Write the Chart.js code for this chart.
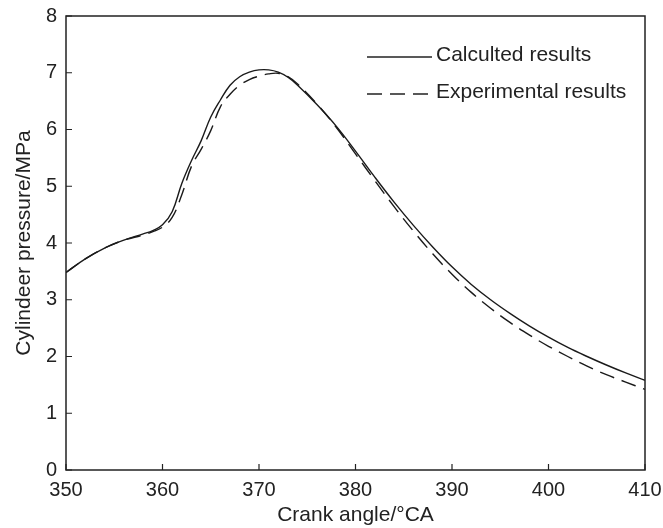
<!DOCTYPE html>
<html>
<head>
<meta charset="utf-8">
<script src="https://cdn.jsdelivr.net/npm/chart.js@4.4.1/dist/chart.umd.min.js"></script>
<style>
  html, body { margin: 0; padding: 0; background: #fff; }
  #wrap { width: 663px; height: 528px; position: relative; }
</style>
</head>
<body>
<div id="wrap"><canvas id="chart"></canvas></div>
<script>
// crank angle (deg CA)
const angles = [350, 352, 354, 356, 358, 359, 360, 361, 362, 363, 364, 365, 366, 367, 368, 369, 370, 371, 372, 373, 374, 376, 378, 380, 382, 384, 386, 388, 390, 392, 394, 396, 398, 400, 402, 404, 406, 408, 410];
// cylinder pressure (MPa)
const calculated = [3.48, 3.72, 3.91, 4.05, 4.16, 4.22, 4.32, 4.55, 5.05, 5.45, 5.80, 6.22, 6.52, 6.78, 6.93, 7.01, 7.05, 7.05, 7.01, 6.92, 6.78, 6.44, 6.06, 5.62, 5.16, 4.72, 4.31, 3.93, 3.58, 3.27, 3.00, 2.76, 2.54, 2.34, 2.16, 2.00, 1.85, 1.71, 1.58];
const experimental = [3.48, 3.72, 3.91, 4.05, 4.14, 4.20, 4.28, 4.45, 4.85, 5.35, 5.65, 5.98, 6.40, 6.62, 6.78, 6.88, 6.94, 6.98, 6.99, 6.93, 6.80, 6.45, 6.04, 5.57, 5.10, 4.64, 4.21, 3.81, 3.45, 3.13, 2.85, 2.60, 2.38, 2.18, 2.00, 1.83, 1.68, 1.55, 1.42];
const xTicks = [350, 360, 370, 380, 390, 400, 410];
const yTicks = [0, 1, 2, 3, 4, 5, 6, 7, 8];
const seriesNames = ["Calculted results", "Experimental results"];

const FONT = "'Liberation Sans', Arial, sans-serif";

function toPoints(ys) {
  return angles.map((a, i) => ({ x: a, y: ys[i] }));
}

// box around plot, inward tick marks, legend inside the axes
const frameAndLegend = {
  id: "frameAndLegend",
  afterDraw(chart) {
    const { ctx, chartArea: area, scales } = chart;
    ctx.save();
    ctx.strokeStyle = "#222";
    ctx.lineWidth = 1.5;
    ctx.strokeRect(area.left, area.top, area.right - area.left, area.bottom - area.top);

    ctx.lineWidth = 1.2;
    ctx.beginPath();
    xTicks.forEach((t) => {
      const x = scales.x.getPixelForValue(t);
      ctx.moveTo(x, area.bottom);
      ctx.lineTo(x, area.bottom - 6);
    });
    yTicks.forEach((t) => {
      const y = scales.y.getPixelForValue(t);
      ctx.moveTo(area.left, y);
      ctx.lineTo(area.left + 6, y);
    });
    ctx.stroke();

    // legend
    ctx.font = "21px " + FONT;
    ctx.fillStyle = "#222";
    ctx.textBaseline = "middle";
    const rows = [
      { y: 55, dash: [] },
      { y: 92, dash: [15, 8] },
    ];
    rows.forEach((r, i) => {
      ctx.beginPath();
      ctx.setLineDash(r.dash);
      ctx.lineWidth = 1.4;
      ctx.moveTo(367, r.y + 2);
      ctx.lineTo(432, r.y + 2);
      ctx.stroke();
      ctx.setLineDash([]);
      ctx.fillText(seriesNames[i], 436, r.y);
    });
    ctx.restore();
  },
};

new Chart(document.getElementById("chart"), {
  type: "line",
  data: {
    datasets: [
      {
        label: seriesNames[0],
        data: toPoints(calculated),
        borderColor: "#1a1a1a",
        borderWidth: 1.4,
        pointRadius: 0,
        tension: 0.4,
        fill: false,
      },
      {
        label: seriesNames[1],
        data: toPoints(experimental),
        borderColor: "#1a1a1a",
        borderWidth: 1.4,
        borderDash: [15, 8],
        pointRadius: 0,
        tension: 0.4,
        fill: false,
      },
    ],
  },
  options: {
    responsive: true,
    maintainAspectRatio: false,
    animation: false,
    layout: {
      padding: { left: 0, right: 18, top: 16, bottom: 0 },
    },
    plugins: {
      legend: { display: false },
      tooltip: { enabled: false },
    },
    scales: {
      x: {
        type: "linear",
        min: 350,
        max: 410,
        afterFit: (scale) => {
          scale.height = 58;
          scale.paddingLeft = 0;
          scale.paddingRight = 0;
        },
        afterBuildTicks: (scale) => { scale.ticks = xTicks.map((v) => ({ value: v })); },
        grid: { display: false, drawTicks: false },
        border: { display: false },
        ticks: {
          padding: 8,
          color: "#222",
          font: { family: FONT, size: 20 },
          maxRotation: 0,
        },
        title: {
          display: true,
          text: "Crank angle/°CA",
          color: "#222",
          font: { family: FONT, size: 21 },
          padding: { top: 0, bottom: 0 },
        },
      },
      y: {
        min: 0,
        max: 8,
        afterFit: (scale) => {
          scale.width = 66;
          scale.paddingTop = 0;
          scale.paddingBottom = 0;
        },
        afterBuildTicks: (scale) => { scale.ticks = yTicks.map((v) => ({ value: v })); },
        grid: { display: false, drawTicks: false },
        border: { display: false },
        ticks: {
          padding: 9,
          color: "#222",
          font: { family: FONT, size: 20 },
        },
        title: {
          display: true,
          text: "Cylindeer pressure/MPa",
          color: "#222",
          font: { family: FONT, size: 21 },
          padding: { top: 12, bottom: 0 },
        },
      },
    },
  },
  plugins: [frameAndLegend],
});
</script>
</body>
</html>
